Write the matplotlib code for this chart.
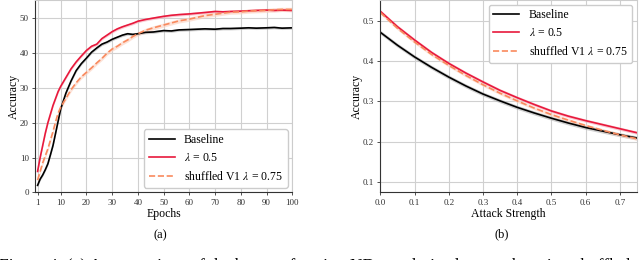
import numpy as np
import matplotlib.pyplot as plt

plt.rcParams['font.family'] = ['Liberation Serif', 'DejaVu Serif']
plt.rcParams['mathtext.fontset'] = 'stix'

# (a) accuracy over training epochs
epochs = [1, 2, 3, 4, 5, 6, 7, 8, 9, 10, 12, 14, 16, 18, 20, 22, 24, 26, 28, 30,
          32, 34, 36, 38, 40, 43, 46, 50, 53, 56, 60, 63, 66, 70, 73, 76, 80,
          83, 86, 90, 93, 96, 100]
acc_base = [2.0, 3.8, 5.0, 6.5, 8.2, 10.8, 13.5, 17.0, 20.5, 24.0, 28.5, 32.0,
            35.0, 37.0, 38.6, 40.3, 41.5, 42.6, 43.2, 44.0, 44.6, 45.2, 45.6,
            45.4, 45.6, 46.0, 46.1, 46.5, 46.4, 46.7, 46.8, 46.9, 47.0, 46.9,
            47.1, 47.1, 47.2, 47.3, 47.2, 47.3, 47.4, 47.2, 47.3]
acc_l05 = [6.0, 10.0, 13.5, 17.0, 20.0, 22.5, 25.0, 27.0, 29.0, 30.5, 33.0,
           35.5, 37.5, 39.2, 40.8, 42.0, 42.6, 44.2, 45.2, 46.2, 47.0, 47.6,
           48.1, 48.6, 49.2, 49.7, 50.1, 50.6, 50.9, 51.1, 51.3, 51.5, 51.7,
           52.0, 51.9, 52.0, 52.1, 52.2, 52.3, 52.4, 52.3, 52.4, 52.3]
acc_shuf = [3.5, 6.0, 8.5, 10.5, 12.5, 15.0, 17.5, 20.3, 22.8, 24.5, 27.0,
            29.5, 31.5, 33.2, 34.5, 35.8, 37.2, 38.5, 40.0, 41.2, 42.0, 43.0,
            43.8, 44.8, 45.6, 46.6, 47.3, 48.1, 48.7, 49.3, 49.8, 50.3, 50.8,
            51.2, 51.5, 51.8, 51.9, 52.1, 52.2, 52.3, 52.5, 52.6, 52.6]
std_a = [0.4, 0.4, 0.6]

# (b) accuracy under attack
strength = [0.0, 0.05, 0.1, 0.15, 0.2, 0.25, 0.3, 0.35, 0.4, 0.45, 0.5, 0.55,
            0.6, 0.65, 0.7, 0.75]
rob_base = [0.471, 0.439, 0.410, 0.384, 0.360, 0.338, 0.318, 0.301, 0.285,
            0.271, 0.258, 0.246, 0.235, 0.226, 0.217, 0.209]
rob_l05 = [0.523, 0.485, 0.452, 0.421, 0.394, 0.370, 0.348, 0.327, 0.309,
           0.292, 0.276, 0.263, 0.252, 0.242, 0.232, 0.222]
rob_shuf = [0.520, 0.481, 0.447, 0.416, 0.389, 0.364, 0.341, 0.320, 0.301,
            0.283, 0.267, 0.253, 0.240, 0.228, 0.217, 0.207]
std_b = [0.005, 0.004, 0.004]

labels = ['Baseline', r'$\lambda$ = 0.5', r'shuffled V1 $\lambda$ = 0.75']
colors = ['black', '#e8193c', '#f98a5e']
bands = ['#b0b0b0', '#f7a8b4', '#fcd0bd']
styles = ['-', '-', '--']

fig = plt.figure(figsize=(6.4, 2.6), dpi=100)
ax1 = fig.add_axes([0.0547, 0.2604, 0.402, 0.7396])
ax2 = fig.add_axes([0.5942, 0.2604, 0.401, 0.7396])


def draw(ax, x, series, std):
    x = np.array(x)
    for y, s, c, b, ls, lab in zip(series, std, colors, bands, styles, labels):
        y = np.array(y)
        ax.fill_between(x, y - s, y + s, color=b, alpha=0.6, lw=0)
        ax.plot(x, y, color=c, ls=ls, lw=1.2, label=lab)
    ax.grid(True, color='#d0d0d0', lw=0.8)
    ax.set_axisbelow(True)
    for side in ['left', 'bottom']:
        ax.spines[side].set_color('#333333')
    for side in ['top', 'right']:
        ax.spines[side].set_color('#cccccc')
    ax.tick_params(labelsize=6.5, length=2.5, width=0.6, pad=2, colors='#333333')
    ax.set_ylabel('Accuracy', fontsize=8.5, labelpad=0)


draw(ax1, epochs, [acc_base, acc_l05, acc_shuf], std_a)
ax1.set_xlim(0, 100)
ax1.set_ylim(0, 55.3)
ax1.set_xticks([1, 10, 20, 30, 40, 50, 60, 70, 80, 90, 100])
ax1.set_yticks([0, 10, 20, 30, 40, 50])
ax1.set_xlabel('Epochs', fontsize=8.5, labelpad=1)
ax1.legend(loc='lower right', fontsize=8.5, handlelength=2.2, fancybox=True,
           framealpha=1, edgecolor='#cccccc', borderaxespad=0.4)

draw(ax2, strength, [rob_base, rob_l05, rob_shuf], std_b)
ax2.set_xlim(0, 0.75)
ax2.set_ylim(0.0744, 0.551)
ax2.set_xticks([0.0, 0.1, 0.2, 0.3, 0.4, 0.5, 0.6, 0.7])
ax2.set_yticks([0.1, 0.2, 0.3, 0.4, 0.5])
ax2.set_xlabel('Attack Strength', fontsize=8.5, labelpad=1)
ax2.legend(loc='upper right', fontsize=8.5, handlelength=2.2, fancybox=True,
           framealpha=1, edgecolor='#cccccc', borderaxespad=0.4)

fig.text(160 / 640, 1 - 235 / 260, '(a)', ha='center', va='center', fontsize=9)
fig.text(502 / 640, 1 - 234 / 260, '(b)', ha='center', va='center', fontsize=9)
fig.text(-0.002, 1 - 270 / 260,
         'Figure 4: (a) A comparison of the best performing ND-regularized networks using shuffled',
         ha='left', va='baseline', fontsize=12.5)

fig.savefig('out.png', dpi=100)
